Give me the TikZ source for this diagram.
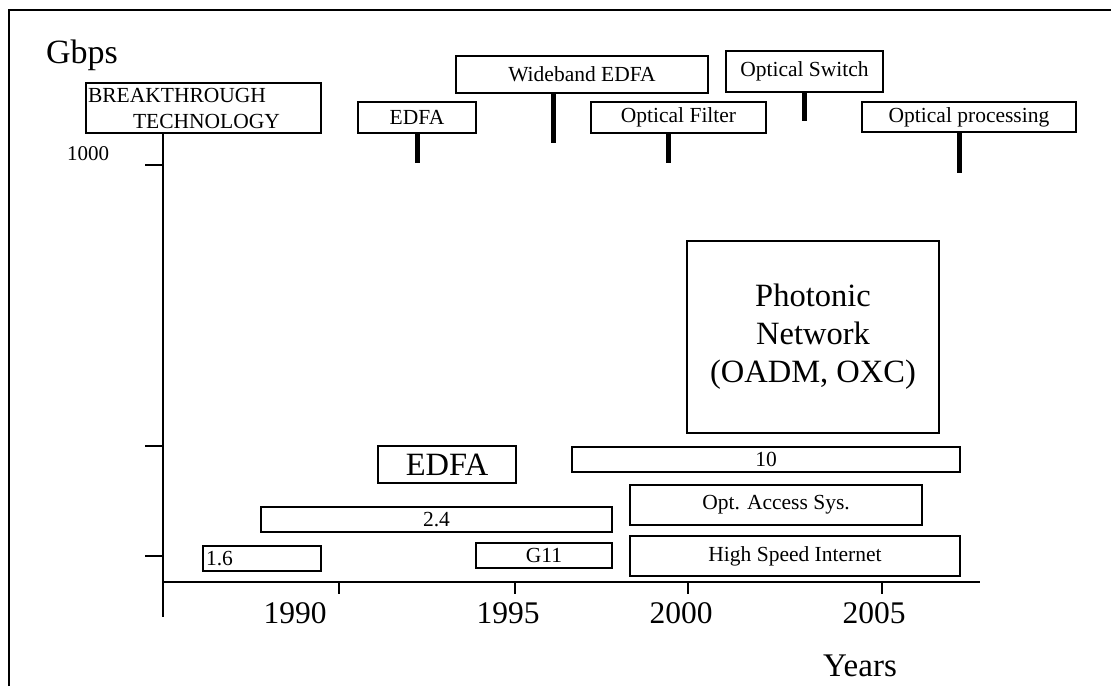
\documentclass[tikz,border=0pt]{standalone}
\usepackage{fontspec}
\setmainfont{Liberation Serif}
\usetikzlibrary{calc}

\begin{document}
\begin{tikzpicture}[
    x=1pt, y=-1pt,
    bar/.style={draw, line width=1.4pt, inner sep=0pt, align=center, font=\fontsize{21.5}{25}\selectfont},
    bigbar/.style={bar, font=\fontsize{32.5}{38}\selectfont},
    stem/.style={line width=5pt},
    axis/.style={line width=2pt},
    tick/.style={line width=1.6pt},
    yearlbl/.style={anchor=base, font=\fontsize{31.5}{37}\selectfont}
]
\useasboundingbox (0,0) rectangle (1111,686);

% Frame
\draw[line width=1.5pt] (9,686) -- (9,10) -- (1111,10);

% Axis labels
\node[anchor=base, font=\fontsize{34}{40}\selectfont] (gbps) at (82,63) {Gbps};
\node[anchor=base, font=\fontsize{21}{25}\selectfont] (k1000) at (88,160) {1000};
\node[anchor=base, font=\fontsize{33}{39}\selectfont] (years) at (860,676) {Years};

% Breakthrough technologies (top row)
\node[bar, minimum width=235pt, minimum height=50pt, text width=231pt, align=left,
      font=\fontsize{21.5}{26}\selectfont] (bt) at (203.5,108)
      {BREAKTHROUGH\\\hspace*{45pt}TECHNOLOGY};
\node[bar, minimum width=118pt, minimum height=31pt] (edfaT) at (417,117.5) {EDFA};
\node[bar, minimum width=252pt, minimum height=37pt] (wide) at (582,74.5) {Wideband EDFA};
\node[bar, minimum width=175pt, minimum height=31pt] (filt) at (678.5,117.5) {Optical Filter};
\node[bar, minimum width=157pt, minimum height=41pt] (switch) at (804.5,71.5) {Optical Switch};
\node[bar, minimum width=214pt, minimum height=30pt] (proc) at (969,117) {Optical processing};

% Stems
\draw[stem] (edfaT.south) -- ++(0,29);
\draw[stem] ([xshift=-29pt]wide.south) -- ++(0,49);
\draw[stem] ([xshift=-10pt]filt.south) -- ++(0,29);
\draw[stem] (switch.south) -- ++(0,28);
\draw[stem] ([xshift=-10pt]proc.south) -- ++(0,40);

% Axes
\coordinate (origin) at (163,582);
\draw[axis] (bt.south -| origin) -- (163,617);
\draw[axis] (origin) -- (980,582);
\foreach \y in {165,446,556}
    \draw[tick] (145,\y) -- (163,\y);
\foreach \x/\lx/\yr in {339/295/1990, 515/508/1995, 688/681/2000, 882/874/2005} {
    \draw[tick] (\x,582) -- (\x,594);
    \node[yearlbl] (y\yr) at (\lx,623) {\yr};
}

% Capacity bars
\node[bar, minimum width=118pt, minimum height=25pt, text width=112pt, align=left,
      inner xsep=3pt] (r16) at (262,558.5) {1.6};
\node[bar, minimum width=351pt, minimum height=25pt] (r24) at (436.5,519.5) {2.4};
\node[bar, minimum width=136pt, minimum height=25pt] (g11) at (544,555.5) {G11};
\node[bigbar, minimum width=138pt, minimum height=37pt] (edfaB) at (447,464.5) {EDFA};
\node[bar, minimum width=388pt, minimum height=25pt] (r10) at (766,459.5) {10};
\node[bar, minimum width=292pt, minimum height=40pt] (oas) at (776,505) {Opt. Access Sys.};
\node[bar, minimum width=330pt, minimum height=40pt] (hsi) at (795,556) {High Speed Internet};
\node[bigbar, minimum width=252pt, minimum height=192pt] (phot) at (813,337)
      {Photonic\\Network\\(OADM, OXC)};

\end{tikzpicture}
\end{document}
